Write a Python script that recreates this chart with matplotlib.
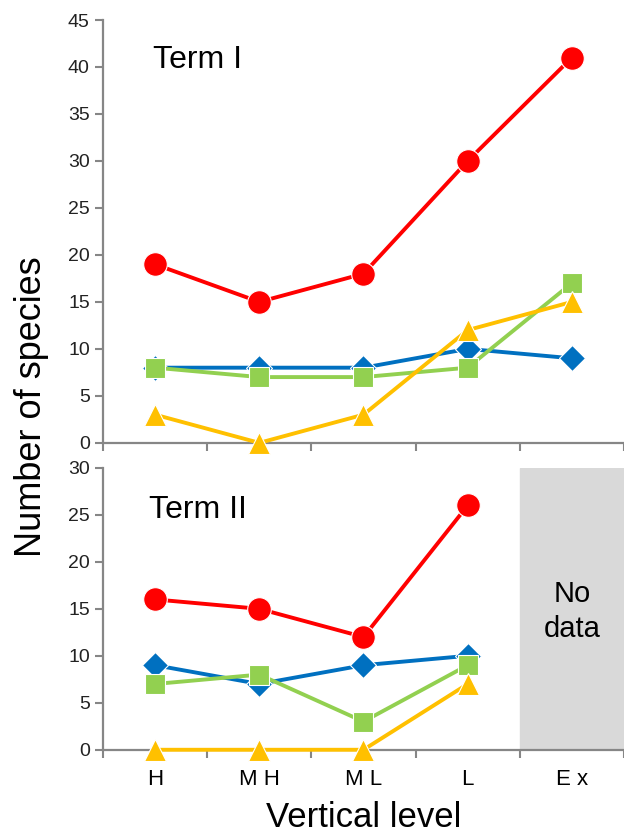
import matplotlib.pyplot as plt
from matplotlib.ticker import MultipleLocator, FixedLocator

plt.rcParams['font.family'] = ['Liberation Sans', 'DejaVu Sans']

levels = ['H', 'MH', 'ML', 'L', 'Ex']
tick_labels = ['H', 'M H', 'M L', 'L', 'E x']

# Term I
t1_red = [19, 15, 18, 30, 41]
t1_blue = [8, 8, 8, 10, 9]
t1_green = [8, 7, 7, 8, 17]
t1_yellow = [3, 0, 3, 12, 15]

# Term II (no data for Ex)
t2_red = [16, 15, 12, 26]
t2_blue = [9, 7, 9, 10]
t2_green = [7, 8, 3, 9]
t2_yellow = [0, 0, 0, 7]

RED = '#FF0000'
BLUE = '#0070C0'
GREEN = '#92D050'
YELLOW = '#FFC000'
GRAY = '#868686'

fig = plt.figure(figsize=(6.24, 8.34), dpi=100)
ax1 = fig.add_axes([0.165, 0.469, 0.835, 0.507])
ax2 = fig.add_axes([0.165, 0.101, 0.835, 0.338])


def draw(ax, blue, green, yellow, red):
    x = list(range(len(red)))
    ax.plot(x, blue, color=BLUE, lw=2.8, marker='D', ms=13, mec='white', mew=0.8, clip_on=False, zorder=3)
    ax.plot(x, green, color=GREEN, lw=2.8, marker='s', ms=14, mec='white', mew=0.8, clip_on=False, zorder=4)
    ax.plot(x, yellow, color=YELLOW, lw=2.8, marker='^', ms=16, mec='white', mew=0.8, clip_on=False, zorder=5)
    ax.plot(x, red, color=RED, lw=2.8, marker='o', ms=17, mec='white', mew=0.8, clip_on=False, zorder=6)


def style(ax, ymax):
    ax.set_xlim(-0.5, 4.5)
    ax.set_ylim(0, ymax)
    ax.yaxis.set_major_locator(MultipleLocator(5))
    ax.xaxis.set_major_locator(FixedLocator(range(5)))
    ax.xaxis.set_minor_locator(FixedLocator([i - 0.5 for i in range(6)]))
    ax.tick_params(axis='x', which='major', length=0, pad=14, labelsize=16)
    ax.tick_params(axis='x', which='minor', length=6, width=1.5, color=GRAY, direction='out')
    ax.tick_params(axis='y', length=6, width=1.5, color=GRAY, direction='out', labelsize=14, labelcolor='#222222')
    for s in ['top', 'right']:
        ax.spines[s].set_visible(False)
    for s in ['left', 'bottom']:
        ax.spines[s].set_color(GRAY)
        ax.spines[s].set_linewidth(1.6)


draw(ax1, t1_blue, t1_green, t1_yellow, t1_red)
style(ax1, 45)
ax1.set_xticklabels([])
ax1.text(-0.02, 40.7, 'Term I', fontsize=23, va='center', ha='left')

ax2.axvspan(3.5, 4.5, color='#D9D9D9', zorder=0)
draw(ax2, t2_blue, t2_green, t2_yellow, t2_red)
style(ax2, 30)
ax2.set_xticklabels(tick_labels)
ax2.text(-0.06, 25.5, 'Term II', fontsize=23, va='center', ha='left')
ax2.text(4, 14.7, 'No\ndata', fontsize=21, va='center', ha='center', linespacing=1.3)
ax2.set_xlabel('Vertical level', fontsize=25, labelpad=8)

fig.text(0.05, 0.512, 'Number of species', rotation=90, fontsize=26, va='center', ha='center')

fig.savefig('out.png', dpi=100)
